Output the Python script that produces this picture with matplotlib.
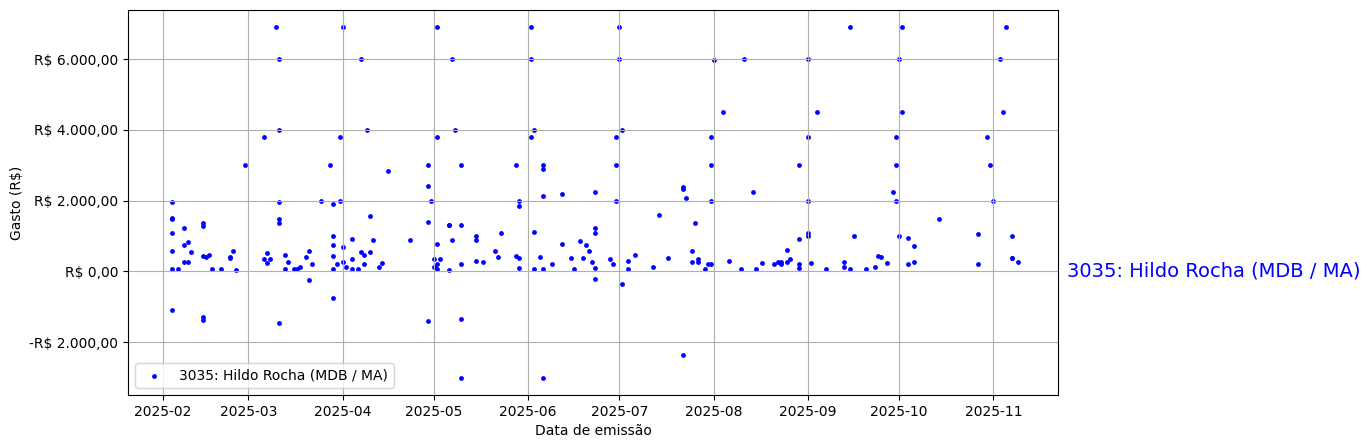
import matplotlib
matplotlib.use("Agg")
import matplotlib.pyplot as plt
import matplotlib.dates as mdates
from matplotlib.ticker import FuncFormatter, MultipleLocator
import pandas as pd

label = "3035: Hildo Rocha (MDB / MA)"

# (date, list of values in R$)
dates_feb = ["2025-02-04"] * 7 + ["2025-02-06", "2025-02-08", "2025-02-08", "2025-02-08",
             "2025-02-09", "2025-02-09", "2025-02-10"] + ["2025-02-14"] * 5 + \
            ["2025-02-15", "2025-02-16", "2025-02-17", "2025-02-20", "2025-02-23", "2025-02-23",
             "2025-02-24", "2025-02-25", "2025-02-28"]
values_feb = [1950, 1500, 1480, 1100, 570, 80, -1100, 80, 1220, 740, 280,
              820, 255, 540, 1380, 1280, 450, -1300, -1360,
              415, 480, 80, 80, 400, 370, 590, 30, 3000]

dates_mar = ["2025-03-06", "2025-03-06", "2025-03-07", "2025-03-07", "2025-03-08",
             "2025-03-10", "2025-03-11", "2025-03-11", "2025-03-11", "2025-03-11", "2025-03-11",
             "2025-03-11", "2025-03-13", "2025-03-13", "2025-03-14", "2025-03-16", "2025-03-17",
             "2025-03-18", "2025-03-20", "2025-03-21", "2025-03-21", "2025-03-22", "2025-03-25",
             "2025-03-28"] + ["2025-03-29"] * 6 + ["2025-03-30", "2025-03-31", "2025-03-31"]
values_mar = [3800, 340, 530, 250, 340,
              6900, 6000, 4000, 1950, 1480, 1360,
              -1470, 80, 480, 255, 80, 80,
              140, 400, 590, -250, 200, 2000,
              3000, 1920, 990, 740, 450, 80, -760, 200, 3800, 2000]

dates_apr = ["2025-04-01"] * 3 + ["2025-04-02", "2025-04-04", "2025-04-04", "2025-04-04",
             "2025-04-06", "2025-04-07", "2025-04-07", "2025-04-08", "2025-04-08", "2025-04-09",
             "2025-04-10", "2025-04-10", "2025-04-11", "2025-04-13", "2025-04-14", "2025-04-16",
             "2025-04-23"] + ["2025-04-29"] * 4 + ["2025-04-30"]
values_apr = [6900, 680, 255, 140, 930, 340, 80,
              80, 6000, 540, 460, 200, 4000,
              1580, 540, 900, 140, 230, 2830,
              900, 3000, 2430, 1390, -1390, 2000]

dates_may = ["2025-05-01", "2025-05-01"] + ["2025-05-02"] * 5 + ["2025-05-03", "2025-05-06",
             "2025-05-06", "2025-05-06", "2025-05-07", "2025-05-07", "2025-05-08"] + \
            ["2025-05-10"] * 5 + ["2025-05-15"] * 3 + ["2025-05-17", "2025-05-21", "2025-05-22",
             "2025-05-23", "2025-05-28", "2025-05-28"] + ["2025-05-29"] * 4
values_may = [340, 140, 6900, 3800, 790, 200, 80, 340, 1300,
              1300, 30, 900, 6000, 4000,
              3000, 1300, 200, -1330, -3000, 990, 900, 310, 255, 570, 400,
              1080, 3000, 450, 2000, 1840, 370, 110]

dates_jun = ["2025-06-02"] * 3 + ["2025-06-03"] * 3 + ["2025-06-05"] + ["2025-06-06"] * 5 + \
            ["2025-06-09", "2025-06-12", "2025-06-12", "2025-06-15", "2025-06-16", "2025-06-18",
             "2025-06-19", "2025-06-20", "2025-06-21", "2025-06-22", "2025-06-23"] + \
            ["2025-06-23"] * 4 + ["2025-06-28", "2025-06-29"] + ["2025-06-30"] * 3
values_jun = [6900, 6000, 3800, 4000, 1130, 80, 400, 3000, 2890, 2120, 80, -3000,
              200, 2180, 790, 370, 80, 850,
              370, 760, 570, 280, 110,
              2260, 1220, 1080, -200, 340, 200, 3800, 3000, 2000]

dates_jul = ["2025-07-01", "2025-07-01", "2025-07-02", "2025-07-02", "2025-07-04", "2025-07-04",
             "2025-07-06", "2025-07-12", "2025-07-14", "2025-07-17"] + ["2025-07-22"] * 3 + \
            ["2025-07-23", "2025-07-25", "2025-07-25", "2025-07-26", "2025-07-27", "2025-07-27",
             "2025-07-29", "2025-07-30"] + ["2025-07-31"] * 4
values_jul = [6900, 6000, 4000, -340, 80, 310,
              480, 140, 1610, 370, 2400, 2320, -2350,
              2070, 590, 280, 1360, 340, 280,
              80, 200, 200, 3800, 3000, 2000]

dates_aug = ["2025-08-01", "2025-08-04", "2025-08-06", "2025-08-10", "2025-08-11", "2025-08-14",
             "2025-08-15", "2025-08-17", "2025-08-21", "2025-08-22", "2025-08-23", "2025-08-23",
             "2025-08-25", "2025-08-25", "2025-08-26"] + ["2025-08-29"] * 4
values_aug = [5970, 4500, 310, 80, 6000, 2260,
              80, 230, 200, 280, 200, 280,
              620, 255, 340, 110, 200, 3000, 930]

dates_sep = ["2025-09-01"] * 5 + ["2025-09-02", "2025-09-04", "2025-09-07", "2025-09-13",
             "2025-09-13", "2025-09-15", "2025-09-15", "2025-09-16", "2025-09-20", "2025-09-23",
             "2025-09-24", "2025-09-25", "2025-09-27", "2025-09-29"] + ["2025-09-30"] * 3
values_sep = [6000, 3800, 2000, 1100, 990, 230, 4500, 80, 140,
              255, 6900, 80, 990, 80, 140,
              450, 420, 230, 2240, 3800, 3000, 2000]

dates_oct = ["2025-10-01", "2025-10-01", "2025-10-02", "2025-10-02", "2025-10-04", "2025-10-04",
             "2025-10-06", "2025-10-06", "2025-10-14", "2025-10-27", "2025-10-27", "2025-10-30",
             "2025-10-31"]
values_oct = [6000, 990, 6900, 4500, 960, 200,
              710, 255, 1470, 1050, 200, 3800,
              3000]

dates_nov = ["2025-11-01", "2025-11-03", "2025-11-04", "2025-11-05", "2025-11-07", "2025-11-07",
             "2025-11-07", "2025-11-09"]
values_nov = [2000, 6000, 4500, 6900, 990, 370, 370, 280]

dates = pd.to_datetime(dates_feb + dates_mar + dates_apr + dates_may + dates_jun + dates_jul
                       + dates_aug + dates_sep + dates_oct + dates_nov)
values = (values_feb + values_mar + values_apr + values_may + values_jun + values_jul
          + values_aug + values_sep + values_oct + values_nov)


def brl(v, pos=None):
    s = f"{abs(v):,.2f}".replace(",", "X").replace(".", ",").replace("X", ".")
    return ("-R$ " if v < 0 else "R$ ") + s


fig = plt.figure(figsize=(13.7, 4.48), dpi=100)
ax = fig.add_axes([0.0934, 0.118, 0.679, 0.86])
ax.scatter(dates, values, s=6, color="blue", label=label)
ax.grid(True)
ax.set_xlim(pd.Timestamp("2025-01-20 10:00"), pd.Timestamp("2025-11-22 07:00"))
ax.yaxis.set_major_locator(MultipleLocator(2000))
ax.yaxis.set_major_formatter(FuncFormatter(brl))
ax.xaxis.set_major_locator(mdates.MonthLocator())
ax.xaxis.set_major_formatter(mdates.DateFormatter("%Y-%m"))
ax.set_xlabel("Data de emissão")
ax.set_ylabel("Gasto (R$)")
ax.legend(loc="lower left")
ax.text(1.01, 0, label, transform=ax.get_yaxis_transform(), color="blue",
        fontsize=14, ha="left", va="center")
fig.savefig("out.png", dpi=100)
